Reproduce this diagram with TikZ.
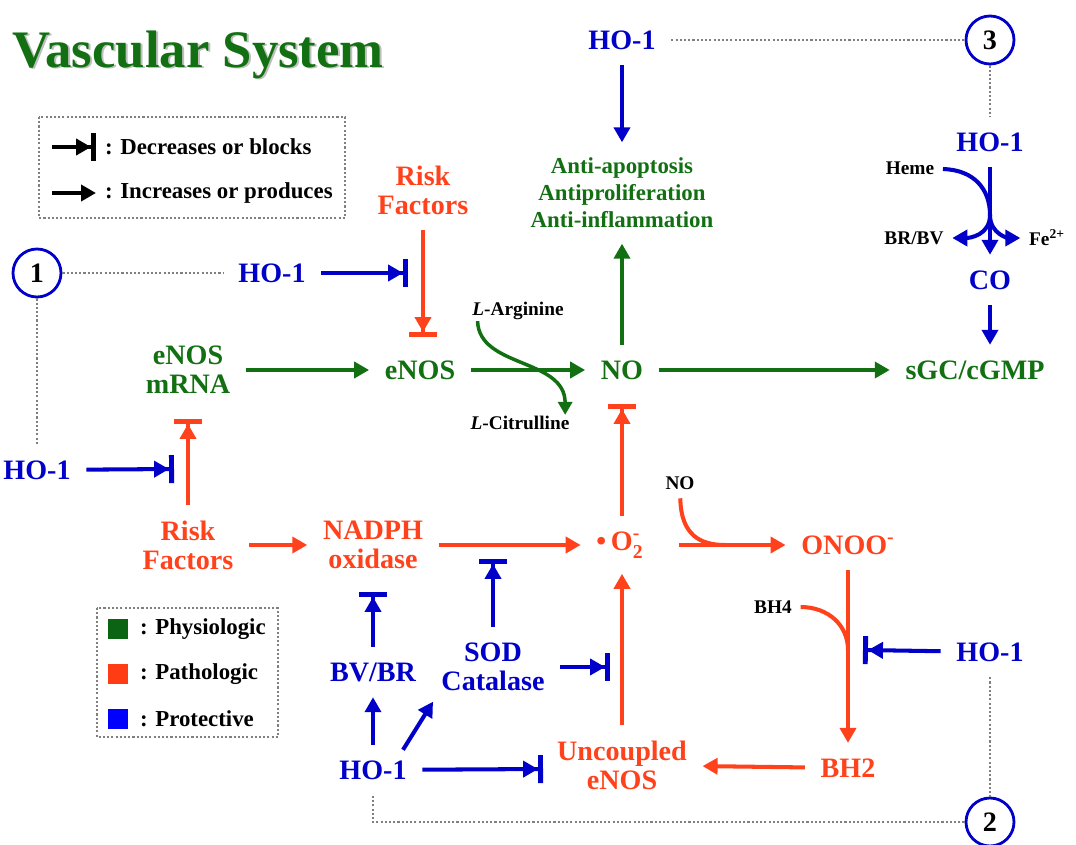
\documentclass[tikz,border=0pt]{standalone}
\usepackage{amsmath}
\usepackage{fontspec}
\setmainfont{Liberation Serif}
\usetikzlibrary{arrows.meta}

\definecolor{physgreen}{RGB}{18,112,18}
\definecolor{pathred}{RGB}{255,66,28}
\definecolor{protblue}{RGB}{0,0,200}
\definecolor{swgreen}{RGB}{10,100,20}
\definecolor{swred}{RGB}{255,60,20}
\definecolor{swblue}{RGB}{0,0,255}

\tikzset{
    lbl/.style={font=\fontsize{16}{16.5}\selectfont\bfseries, align=center, inner sep=1pt, outer sep=0.28cm},
    phys/.style={lbl, text=physgreen},
    patho/.style={lbl, text=pathred},
    prot/.style={lbl, text=protblue},
    chem/.style={font=\fontsize{11}{13}\selectfont\bfseries, inner sep=1pt, outer sep=4pt},
    act/.style={line width=2.3pt, -{Triangle[length=0.3cm,width=0.32cm]}},
    blk/.style={line width=2.3pt, -{Triangle[length=0.3cm,width=0.32cm] Bar[width=0.56cm,line width=2.8pt]}},
    link/.style={gray, line width=1.2pt, dash pattern=on 1.2pt off 1.2pt},
    num/.style={circle, draw=protblue, line width=1.6pt, minimum size=0.96cm, inner sep=0pt, font=\fontsize{16}{16}\selectfont\bfseries},
    legtxt/.style={font=\fontsize{13}{15}\selectfont\bfseries, anchor=west, inner sep=1pt},
    swatch/.style={minimum size=0.4cm, inner sep=0pt},
}

\begin{document}
\begin{tikzpicture}[x=0.02cm, y=-0.02cm]
\useasboundingbox (0,0) rectangle (1076,845);

% title
\node[font=\fontsize{30}{30}\selectfont\bfseries, text=gray!50, anchor=base west, inner sep=0pt] at (14,69) {Vascular System};
\node[font=\fontsize{30}{30}\selectfont\bfseries, text=physgreen, anchor=base west, inner sep=0pt] (title) at (12,67) {Vascular System};

% legends
\draw[link] (39,117) rectangle (345,218);
\node[legtxt] (lg1) at (103,147) {: Decreases or blocks};
\node[legtxt] (lg2) at (103,193) {: Increases or produces};
\draw[blk, black] ([xshift=-1.02cm]lg1.west) -- ([xshift=-0.14cm]lg1.west);
\draw[act, black] ([xshift=-1.02cm]lg2.west) -- ([xshift=-0.14cm]lg2.west);

\draw[link] (97,608) rectangle (278,737);
\foreach \y/\c/\t in {629/swgreen/Physiologic, 674/swred/Pathologic, 719/swblue/Protective} {
    \node[swatch, fill=\c] (sw-\t) at (118,\y) {};
    \node[legtxt] (lg-\t) at (138,\y) {: \t};
}

% nodes
\node[prot] (hotop) at (622,40) {HO-1};
\node[phys, font=\fontsize{13}{15.3}\selectfont\bfseries] (anti) at (622,193) {Anti-apoptosis\\Antiproliferation\\Anti-inflammation};
\node[patho] (rf1) at (423,190) {Risk\\Factors};
\node[prot] (hoa) at (272,273) {HO-1};
\node[num] (c1) at (37,273) {1};
\node[num] (c2) at (990,822) {2};
\node[num] (c3) at (990,40) {3};
\node[phys] (mrna) at (188,370) {eNOS\\mRNA};
\node[phys] (enos) at (420,370) {eNOS};
\node[phys] (no) at (622,370) {NO};
\node[phys] (sgc) at (975,370) {sGC/cGMP};
\node[prot] (ho3) at (990,142) {HO-1};
\node[chem] (heme) at (910,168) {Heme};
\node[chem] (brbv) at (914,238) {BR/BV};
\node[chem] (fe) at (1047,238) {Fe\textsuperscript{2+}};
\node[prot] (co) at (990,280) {CO};
\node[chem] (larg) at (518,311) {\textit{L}-Arginine};
\node[chem] (lcit) at (520,423) {\textit{L}-Citrulline};
\node[prot] (hob) at (37,470) {HO-1};
\node[patho] (rf2) at (188,545) {Risk\\Factors};
\node[patho] (nadph) at (373,545) {NADPH\\oxidase};
\node[patho] (o2) at (620,545) {\textbullet\,$\text{O}_{\text{2}}^{\text{-}}$};
\node[chem] (nolbl) at (680,483) {NO};
\node[patho] (onoo) at (848,545) {ONOO\textsuperscript{-}};
\node[chem] (bh4) at (773,607) {BH4};
\node[prot] (hoc) at (990,652) {HO-1};
\node[prot] (bvbr) at (373,672) {BV/BR};
\node[prot] (sod) at (493,667) {SOD\\Catalase};
\node[prot] (hod) at (373,770) {HO-1};
\node[patho] (unc) at (622,765) {Uncoupled\\eNOS};
\node[patho] (bh2) at (848,768) {BH2};

% ends of the blocking arrows
\coordinate (k1) at (423,337);
\coordinate (k2) at (188,419);
\coordinate (k3) at (622,404);
\coordinate (kb1) at (408,273);
\coordinate (kb2) at (174,469);
\coordinate (kb3) at (863,650);
\coordinate (kb4) at (493,559);
\coordinate (kb5) at (373,592);
\coordinate (kb6) at (543,769);
\coordinate (kb7) at (610,667);
% joints of the side reactions
\coordinate (hj) at (990,215);
\coordinate (nj) at (725,545);
\coordinate (bj) at (848,650);

% physiologic
\draw[act, physgreen] (no) -- (anti);
\draw[act, physgreen] (mrna) -- (enos);
\draw[act, physgreen] (enos) -- (no);
\draw[act, physgreen] (no) -- (sgc);
\draw[physgreen, line width=2pt, -{Triangle[length=0.26cm,width=0.28cm]}] ([xshift=0.28cm,yshift=0.15cm]larg.south west) .. controls (479,368) and (565,358) .. ([xshift=-0.26cm,yshift=-0.15cm]lcit.north east);

% pathologic
\draw[blk, pathred] (rf1) -- (k1);
\draw[blk, pathred] (rf2) -- (k2);
\draw[act, pathred] (rf2) -- (nadph);
\draw[act, pathred] (nadph) -- (o2);
\draw[blk, pathred] (o2.north -| k3) -- (k3);
\draw[act, pathred, shorten <=0.4cm] (o2) -- (onoo);
\draw[pathred, line width=2.3pt] (nolbl) .. controls (681,535) and (700,545) .. (nj);
\draw[act, pathred] (onoo) -- (bh2);
\draw[pathred, line width=2.3pt] (bh4) .. controls (828,607) and (848,625) .. (bj);
\draw[act, pathred] (bh2) -- (unc);
\draw[act, pathred] (unc) -- (unc |- o2.south);

% protective
\draw[act, protblue] (hotop) -- (anti);
\draw[blk, protblue] (hoa) -- (kb1);
\draw[act, protblue] (ho3) -- (co);
\draw[protblue, line width=2.3pt] (heme) .. controls (975,170) and (990,190) .. (hj);
\draw[act, protblue] (hj) .. controls (990,235) and (970,238) .. (brbv);
\draw[act, protblue] (hj) .. controls (990,235) and (1010,238) .. (fe);
\draw[act, protblue] (co) -- (co |- sgc.north);
\draw[blk, protblue] (hob) -- (kb2);
\draw[blk, protblue] (hoc) -- (kb3);
\draw[blk, protblue] (sod) -- (kb4);
\draw[blk, protblue] (bvbr) -- (kb5);
\draw[act, protblue] (hod) -- (bvbr);
\draw[act, protblue] ([xshift=0.6cm,yshift=-0.1cm]hod.north) -- ([xshift=-1.2cm,yshift=0.1cm]sod.south);
\draw[blk, protblue] (hod) -- (kb6);
\draw[blk, protblue] (sod) -- (kb7);

% HO-1 links
\foreach \a/\b in {hotop/c3, c3/ho3, c1/hoa, c1/hob, hoc/c2} {
    \draw[link] (\a) -- (\b);
}
\draw[link] (c2) -| (hod);
\end{tikzpicture}
\end{document}
